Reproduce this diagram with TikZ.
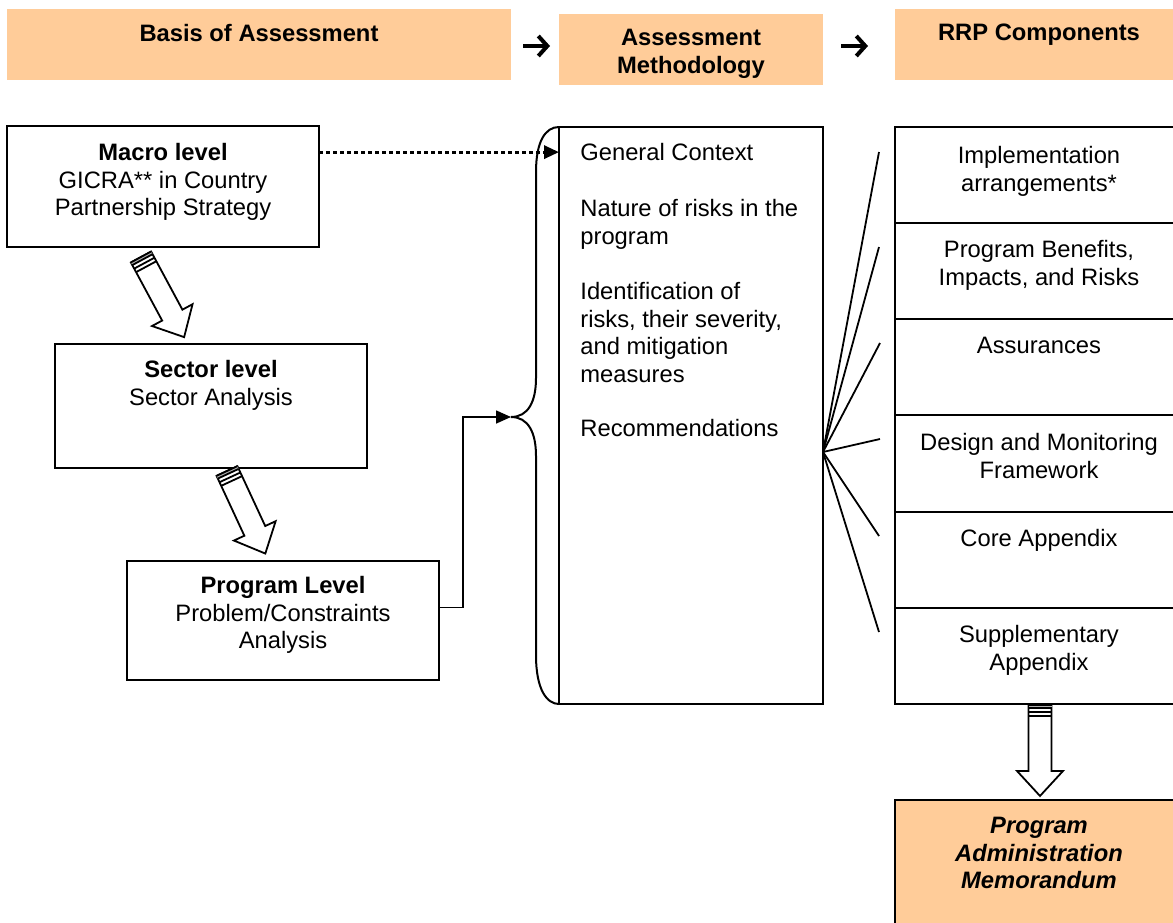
\documentclass[tikz,border=0pt]{standalone}
\usepackage{fontspec}
\setmainfont{Liberation Sans}
\usetikzlibrary{arrows.meta,calc}
\definecolor{peach}{RGB}{255,204,153}
\begin{document}
\begin{tikzpicture}[x=0.5pt,y=-0.5pt,
  every node/.style={font=\fontsize{11.875}{13.8}\selectfont},
  box/.style={draw, line width=1pt, rectangle, inner sep=0pt, outer sep=0pt, anchor=north west},
  hdr/.style={fill=peach, rectangle, inner sep=0pt, outer sep=0pt, anchor=north west},
  txt/.style={inner sep=0pt, anchor=north, align=center},
  ltxt/.style={inner sep=0pt, anchor=north west, align=left},
  hdarrow/.style={line width=2pt, -{Straight Barb[length=4.5pt,width=10pt,line width=2pt]}},
  tri/.style={-{Triangle[length=7.5pt,width=6.5pt]}},
  blockarrow/.pic={
    \draw[line width=0.9pt, fill=white, line join=miter]
      (0,-11.5) -- (66,-11.5) -- (66,-23) -- (91,0) -- (66,23) -- (66,11.5) -- (0,11.5) -- cycle;
    \fill[gray!60] (0,-11.5) rectangle (3,11.5);
    \draw[line width=0.9pt] (0,-11.5) -- (0,11.5) (3,-11.5) -- (3,11.5)
      (7,-11.5) -- (7,11.5) (11,-11.5) -- (11,11.5);
  }]
\clip (0,0) rectangle (1173,922);
\fill[white] (0,0) rectangle (1173,922);

% column headers
\node[hdr, minimum width=252pt, minimum height=35.5pt] (hb) at (7,9) {};
\node[hdr, minimum width=132pt, minimum height=35.5pt] (ha) at (559,14) {};
\node[hdr, minimum width=145pt, minimum height=35.5pt] (hr) at (895,9) {};
\node[txt, font=\fontsize{11.875}{13.8}\selectfont\bfseries] (hbt) at (259,24) {Basis of Assessment};
\node[txt, font=\fontsize{11.875}{13.8}\selectfont\bfseries] (hat) at (691,29) {Assessment\\Methodology};
\node[txt, font=\fontsize{11.875}{13.8}\selectfont\bfseries] (hrt) at (1039,24) {RRP Components};
\coordinate (a1s) at (523,46);
\coordinate (a1e) at (550,46);
\coordinate (a2s) at (841,46);
\coordinate (a2e) at (868,46);
\draw[hdarrow] (a1s) -- (a1e);
\draw[hdarrow] (a2s) -- (a2e);

% basis of assessment levels
\node[box, minimum width=156pt, minimum height=60.5pt] (macro) at (7,126) {};
\node[txt] (macrot) at (163,143) {\textbf{Macro level}\\GICRA** in Country\\Partnership Strategy};
\node[box, minimum width=156pt, minimum height=62pt] (sector) at (55,344) {};
\node[txt] (sectort) at (211,360) {\textbf{Sector level}\\Sector Analysis};
\node[box, minimum width=156pt, minimum height=59.5pt] (prog) at (127,561) {};
\node[txt] (progt) at (283,576) {\textbf{Program Level}\\Problem/Constraints\\Analysis};

\pic[rotate=-61.7] at (141,257) {blockarrow};
\pic[rotate=-65.1] at (227,471) {blockarrow};

% assessment methodology
\node[box, minimum width=132pt, minimum height=288.5pt] (mid) at (559,127) {};
\node[ltxt] (m1) at (580,143) {General Context};
\node[ltxt] (m2) at (580,199) {Nature of risks in the\\program};
\node[ltxt] (m3) at (580,282) {Identification of\\risks, their severity,\\and mitigation\\measures};
\node[ltxt] (m4) at (580,419) {Recommendations};

% brace in front of the methodology box
\coordinate (tip) at (511,417);
\draw[line width=1pt] (mid.north west) .. controls (545,127) and (536,142) .. (536,172)
  -- (536,378) .. controls (536,402) and (528,417) .. (tip)
  .. controls (528,417) and (536,432) .. (536,456)
  -- (536,655) .. controls (536,690) and (547,704) .. (mid.south west);

\draw[line width=1.6pt, dash pattern=on 2pt off 1.5pt, tri] (macro.east |- m1.west) -- (mid.west |- m1.west);
\draw[line width=0.8pt, tri] ($(prog.east)+(0,-13)$) -- ++(24,0) |- (tip);

% RRP components
\node[box, minimum width=145pt, minimum height=48.08pt] (r1) at (895,127) {};
\node[box, minimum width=145pt, minimum height=48.08pt, anchor=north] (r2) at (r1.south) {};
\node[box, minimum width=145pt, minimum height=48.08pt, anchor=north] (r3) at (r2.south) {};
\node[box, minimum width=145pt, minimum height=48.08pt, anchor=north] (r4) at (r3.south) {};
\node[box, minimum width=145pt, minimum height=48.08pt, anchor=north] (r5) at (r4.south) {};
\node[box, minimum width=145pt, minimum height=48.08pt, anchor=north] (r6) at (r5.south) {};
\node[txt] (r1t) at (1039,146) {Implementation\\arrangements*};
\node[txt] (r2t) at (1039,240) {Program Benefits,\\Impacts, and Risks};
\node[txt] (r3t) at (1039,337) {Assurances};
\node[txt] (r4t) at (1039,433) {Design and Monitoring\\Framework};
\node[txt] (r5t) at (1039,529) {Core Appendix};
\node[txt] (r6t) at (1039,625) {Supplementary\\Appendix};

% fan of links from the methodology box to the components
\coordinate (fan) at (mid.east |- 0,452);
\coordinate (f1) at (879,152);
\coordinate (f2) at (879,247);
\coordinate (f3) at (880,343);
\coordinate (f4) at (880,439);
\coordinate (f5) at (879,536);
\coordinate (f6) at (879,632);
\foreach \f in {f1,f2,f3,f4,f5,f6}
  \draw[line width=0.9pt] (fan) -- (\f);

% program administration memorandum
\node[box, fill=peach, minimum width=145pt, minimum height=65pt] (pam) at (895,800) {};
\node[txt, font=\fontsize{11.875}{13.8}\selectfont\bfseries\itshape] (pamt) at (1039,817) {Program\\Administration\\Memorandum};
\pic[rotate=-90] at ($(r6.south)+(0,1)$) {blockarrow};
\end{tikzpicture}
\end{document}
